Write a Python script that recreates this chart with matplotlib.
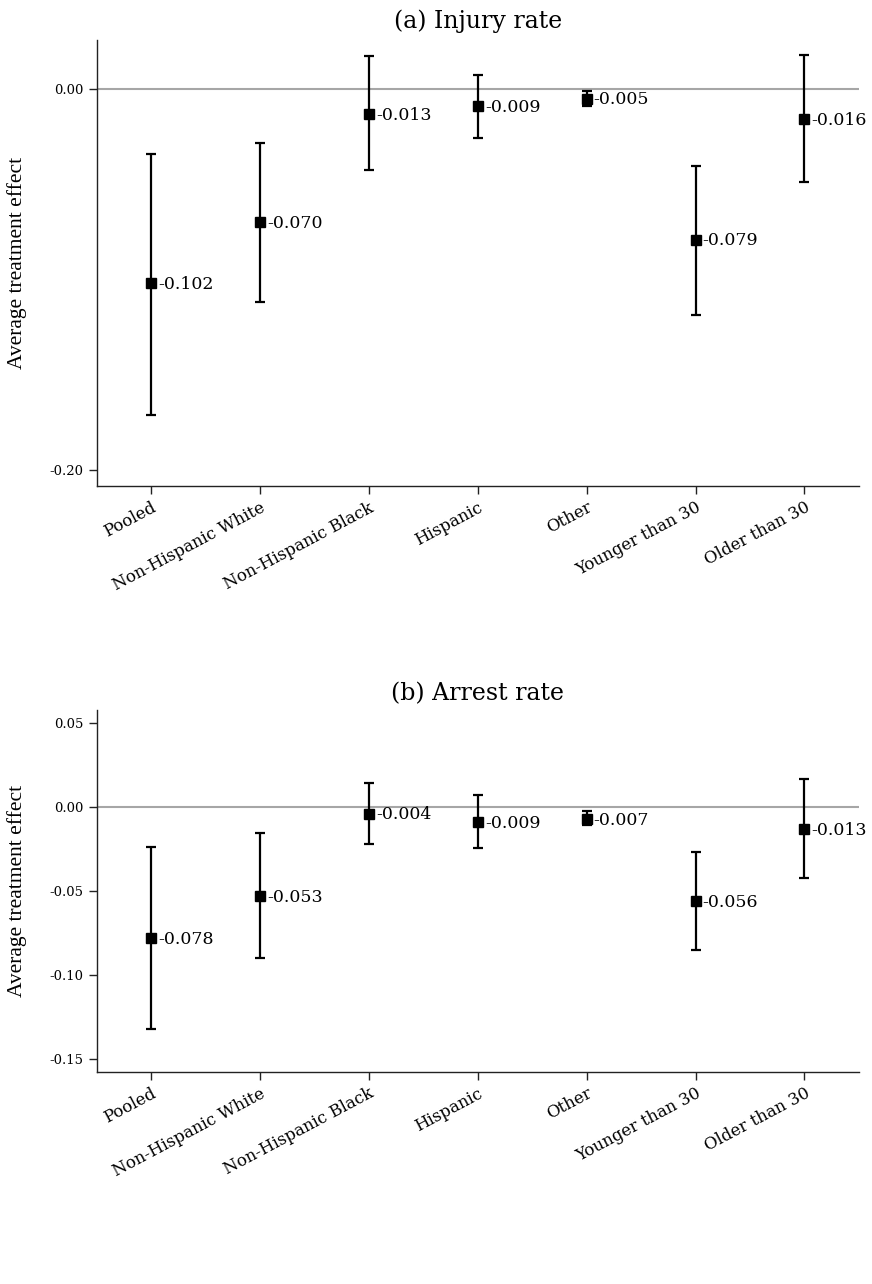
import numpy as np
import matplotlib.pyplot as plt

groups = ["Pooled", "Non-Hispanic White", "Non-Hispanic Black", "Hispanic",
          "Other", "Younger than 30", "Older than 30"]

# (a) injury rate
injury_ate = [-0.102, -0.070, -0.013, -0.009, -0.005, -0.079, -0.016]
injury_lo = [-0.171, -0.112, -0.0425, -0.0257, -0.0089, -0.1186, -0.049]
injury_hi = [-0.034, -0.0283, 0.0173, 0.0073, -0.0009, -0.0404, 0.0178]

# (b) arrest rate
arrest_ate = [-0.078, -0.053, -0.004, -0.009, -0.007, -0.056, -0.013]
arrest_lo = [-0.1322, -0.0897, -0.0222, -0.0246, -0.0109, -0.0853, -0.0423]
arrest_hi = [-0.0238, -0.0155, 0.0143, 0.0068, -0.0024, -0.0266, 0.0163]

injury_ticks = [0.0, -0.20]
arrest_ticks = [0.05, 0.0, -0.05, -0.10, -0.15]

serif = ["DejaVu Serif"]
label_font = ["Liberation Serif"]


def draw_panel(ax, title, ate, lo, hi, yticks, ylim, pad):
    x = np.arange(len(groups))
    ate = np.array(ate)
    err = [ate - np.array(lo), np.array(hi) - ate]
    ax.axhline(0, color="#a6a6a6", lw=1.5, zorder=1)
    ax.errorbar(x, ate, yerr=err, fmt="s", color="black", ms=6.5,
                elinewidth=1.6, capsize=3.5, capthick=1.6, zorder=3)
    for xi, v in zip(x, ate):
        ax.annotate(f"{v:.3f}", (xi, v), xytext=(5, -1), textcoords="offset points",
                    va="center", ha="left", fontsize=12.5, family=serif)
    ax.set_xlim(-0.5, 6.5)
    ax.set_ylim(*ylim)
    ax.set_yticks(yticks)
    ax.set_yticklabels([f"{t:.2f}" for t in yticks], family=serif, fontsize=9.5)
    ax.set_xticks(x)
    ax.set_xticklabels(groups, rotation=28, ha="right", rotation_mode="anchor",
                       family=serif, fontsize=12)
    ax.set_ylabel("Average treatment effect", family=label_font, fontsize=15.5, labelpad=16)
    ax.set_title(title, family=serif, fontsize=17, pad=pad)
    for s in ["top", "right"]:
        ax.spines[s].set_visible(False)
    for s in ["left", "bottom"]:
        ax.spines[s].set_linewidth(1.0)
        ax.spines[s].set_color("#222222")
    ax.tick_params(length=6, width=1.0, color="#222222")


fig = plt.figure(figsize=(8.72, 12.84), dpi=100)
ax1 = fig.add_axes([0.111, 0.6215, 0.874, 0.3473])
ax2 = fig.add_axes([0.111, 0.1653, 0.874, 0.2817])

draw_panel(ax1, "(a) Injury rate", injury_ate, injury_lo, injury_hi,
           injury_ticks, (-0.2084, 0.0257), 9)
draw_panel(ax2, "(b) Arrest rate", arrest_ate, arrest_lo, arrest_hi,
           arrest_ticks, (-0.1576, 0.0576), 7)

fig.savefig("out.png", dpi=100)
